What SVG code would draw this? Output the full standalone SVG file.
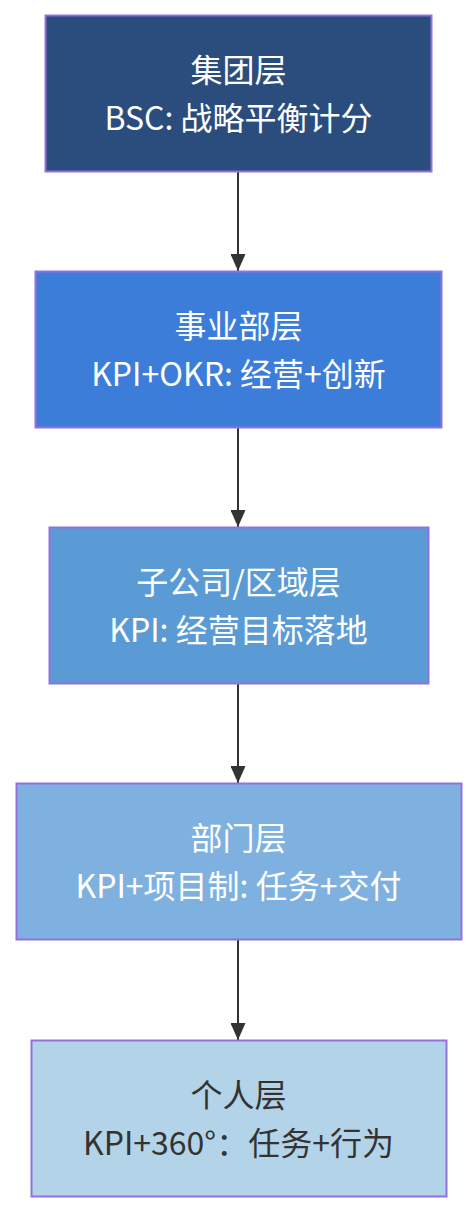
<svg xmlns="http://www.w3.org/2000/svg" width="476" height="1212" viewBox="0 0 476 1212">
<style>
.box{stroke:#9370db;stroke-width:2}
.t{font-family:"Noto Sans CJK SC","Noto Sans",sans-serif;font-size:32px;text-anchor:middle}
.w{fill:#ffffff}
.d{fill:#333333}
.edge{stroke:#333333;stroke-width:2;fill:none}
</style>
<defs>
<marker id="arr" markerWidth="17" markerHeight="15" refX="17" refY="7.5" orient="auto" markerUnits="userSpaceOnUse">
<path d="M0,0 L17,7.5 L0,15 Z" fill="#333333"/>
</marker>
</defs>
<g id="edges">
<line class="edge" x1="238" y1="172" x2="238" y2="271" marker-end="url(#arr)"/>
<line class="edge" x1="238" y1="428" x2="238" y2="527" marker-end="url(#arr)"/>
<line class="edge" x1="238" y1="684" x2="238" y2="783" marker-end="url(#arr)"/>
<line class="edge" x1="238" y1="940" x2="238" y2="1040" marker-end="url(#arr)"/>
</g>
<g id="n1">
<rect class="box" x="45.5" y="15.5" width="386" height="156" fill="#2b4d7e"/>
<text class="t w" x="238.5" y="82">集团层</text>
<text class="t w" x="238.5" y="130">BSC: 战略平衡计分</text>
</g>
<g id="n2">
<rect class="box" x="35.5" y="271.5" width="406" height="156" fill="#3b7dd8"/>
<text class="t w" x="238.5" y="338">事业部层</text>
<text class="t w" x="238.5" y="386">KPI+OKR: 经营+创新</text>
</g>
<g id="n3">
<rect class="box" x="49.5" y="527.5" width="379" height="156" fill="#5a9bd5"/>
<text class="t w" x="238.5" y="594">子公司/区域层</text>
<text class="t w" x="238.5" y="642">KPI: 经营目标落地</text>
</g>
<g id="n4">
<rect class="box" x="16.5" y="783.5" width="445" height="156" fill="#7fb1e0"/>
<text class="t w" x="238.5" y="850">部门层</text>
<text class="t w" x="238.5" y="898">KPI+项目制: 任务+交付</text>
</g>
<g id="n5">
<rect class="box" x="31.5" y="1040.5" width="415" height="156" fill="#b3d4e8"/>
<text class="t d" x="238.5" y="1107">个人层</text>
<text class="t d" x="238.5" y="1155">KPI+360°：任务+行为</text>
</g>
</svg>
